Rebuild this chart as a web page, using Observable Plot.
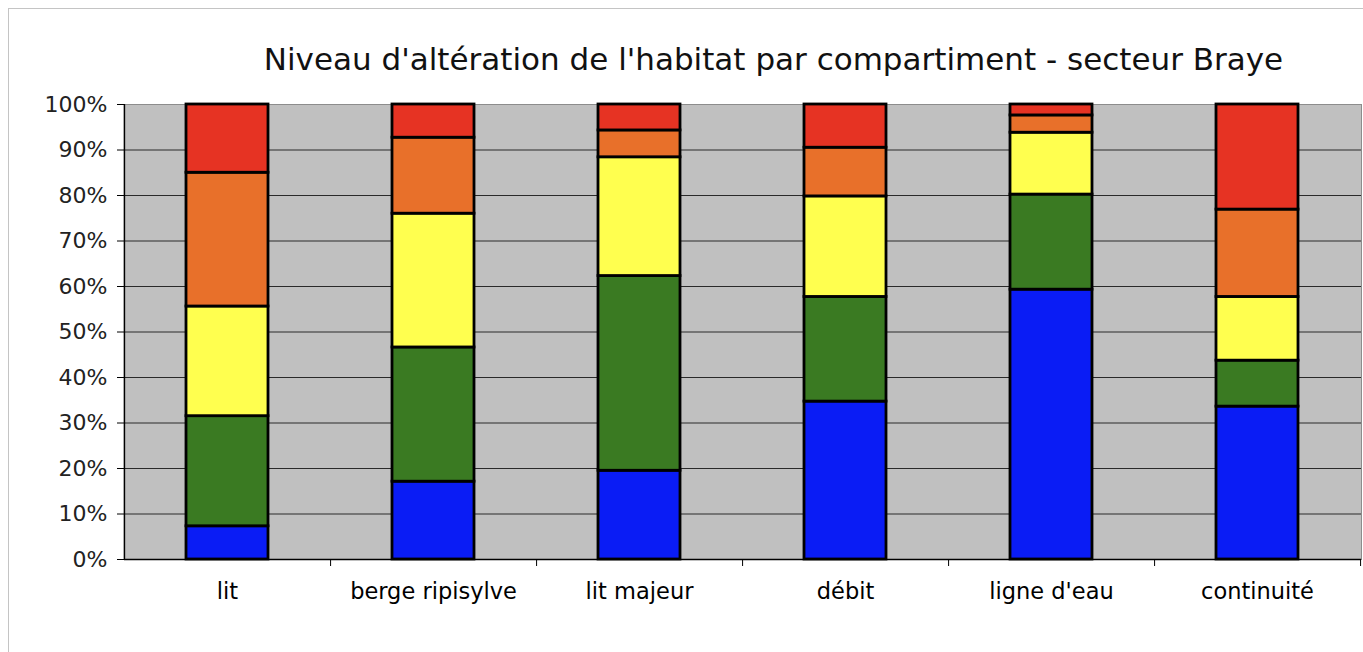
<!DOCTYPE html>
<html>
<head>
<meta charset="utf-8">
<script src="https://cdn.jsdelivr.net/npm/d3@7"></script>
<script src="https://cdn.jsdelivr.net/npm/@observablehq/plot@0.6"></script>
<style>
  html, body { margin: 0; padding: 0; background: #fff; }
  #wrap { position: relative; width: 1363px; height: 652px; overflow: hidden; }
  #border { position: absolute; left: 8px; top: 8px; width: 1400px; height: 700px; border: 1px solid #c4c4c4; }
  #title { position: absolute; left: 0; width: 1547px; top: 41px; text-align: center;
           font-family: "DejaVu Sans", sans-serif; font-size: 31px; color: #111; white-space: nowrap; }
  #chart { position: absolute; left: 0; top: 80px; }
</style>
</head>
<body>
<div id="wrap">
  <div id="border"></div>
  <div id="title">Niveau d'altération de l'habitat par compartiment - secteur Braye</div>
  <div id="chart"></div>
</div>
<script>
const categories = ["lit", "berge ripisylve", "lit majeur", "débit", "ligne d'eau", "continuité"];
const levels = ["très bon", "bon", "moyen", "médiocre", "mauvais"];
const levelColors = ["#0a1cf5", "#3a7a22", "#ffff4f", "#e8702a", "#e63323"];
const tresBon  = [7.3, 17.1, 19.5, 34.7, 59.3, 33.6];
const bon      = [24.2, 29.5, 42.8, 23.0, 20.9, 10.1];
const moyen    = [24.1, 29.4, 26.1, 22.1, 13.6, 14.0];
const mediocre = [29.4, 16.7, 5.9, 10.7, 3.8, 19.2];
const mauvais  = [15.0, 7.3, 5.7, 9.5, 2.4, 23.1];
const yTicks = [0, 10, 20, 30, 40, 50, 60, 70, 80, 90, 100];

const series = [tresBon, bon, moyen, mediocre, mauvais];
const rows = [];
levels.forEach((lv, i) => categories.forEach((c, j) => rows.push({cat: c, level: lv, value: series[i][j]})));

const W = 1363, H = 572;
const mL = 124, mR = 2, mT = 24, mB = 93;
const step = (W - mL - mR) / categories.length;

const chart = Plot.plot({
  width: W, height: H,
  marginLeft: mL, marginRight: mR, marginTop: mT, marginBottom: mB,
  style: {fontFamily: "'DejaVu Sans', sans-serif", background: "transparent", overflow: "visible"},
  x: {domain: categories, paddingInner: 0.6, paddingOuter: 0.3, label: null},
  y: {domain: [0, 100], label: null},
  color: {domain: levels, range: levelColors},
  marks: [
    Plot.frame({fill: "#c0c0c0", stroke: "#8c8c8c"}),
    Plot.ruleY(yTicks.filter(d => d > 0 && d < 100), {stroke: "#2a2a2a", strokeWidth: 1}),
    Plot.barY(rows, Plot.stackY({order: null}, {x: "cat", y: "value", fill: "level", stroke: "#000", strokeWidth: 2.8})),
    Plot.ruleY([0], {stroke: "#000", strokeWidth: 1.5}),
    Plot.axisY({ticks: yTicks, tickSize: 7, tickPadding: 10, tickFormat: d => d + "%", fontSize: 22, stroke: "#000", fill: "#222"}),
    Plot.ruleX([categories[0]], {dx: -step / 2, stroke: "#000", strokeWidth: 1.5}),
    Plot.ruleX(categories, {x: d => d, dx: step / 2, y1: 0, y2: 0, insetBottom: -7, stroke: "#000"}),
    Plot.axisX({tickSize: 0, tickPadding: 24, fontSize: 22.5, fill: "#000"})
  ]
});
document.getElementById("chart").appendChild(chart);
</script>
</body>
</html>
